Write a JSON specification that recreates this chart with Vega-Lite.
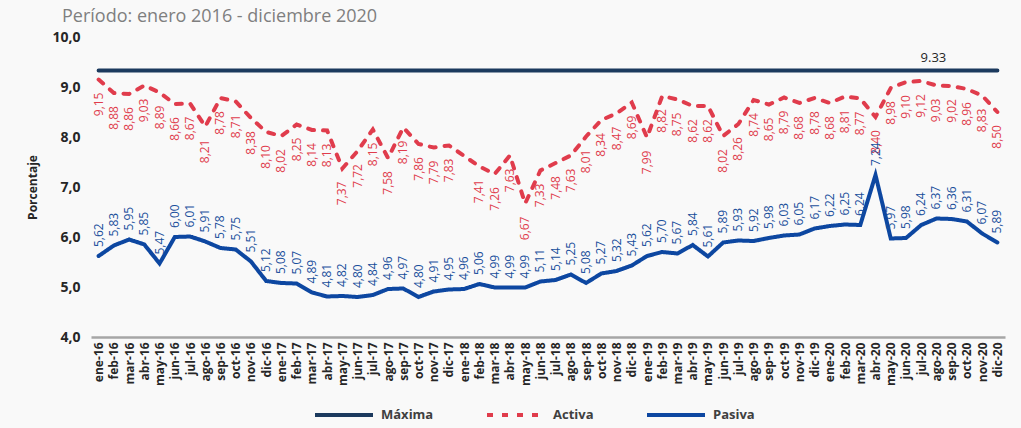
{
  "$schema": "https://vega.github.io/schema/vega-lite/v6.json",
  "width": 914,
  "height": 300,
  "autosize": {"type": "none"},
  "padding": {"left": 91, "top": 37, "right": 16, "bottom": 91},
  "background": "#f9f9f9",
  "title": {"text": "Período: enero 2016 - diciembre 2020", "font": "Open Sans", "fontSize": 18, "fontWeight": "normal", "color": "#7f7f7f", "anchor": "start", "frame": "group", "dx": -29, "offset": 4},
  "config": {
    "locale": {"number": {"decimal": ",", "thousands": ".", "grouping": [3], "currency": ["", " €"]}},
    "view": {"stroke": null},
    "legend": {"orient": "none", "legendX": 222, "legendY": 347, "direction": "horizontal", "symbolType": "stroke", "symbolSize": 3364, "symbolStrokeWidth": 4, "labelFont": "Open Sans", "labelFontSize": 13, "labelFontWeight": "bold", "labelColor": "#404040", "columnPadding": 45, "labelOffset": 6}
  },
  "data": {"values": [
    {"mes": "ene-16", "Máxima": 9.33, "Activa": 9.15, "Pasiva": 5.62},
    {"mes": "feb-16", "Máxima": 9.33, "Activa": 8.88, "Pasiva": 5.83},
    {"mes": "mar-16", "Máxima": 9.33, "Activa": 8.86, "Pasiva": 5.95},
    {"mes": "abr-16", "Máxima": 9.33, "Activa": 9.03, "Pasiva": 5.85},
    {"mes": "may-16", "Máxima": 9.33, "Activa": 8.89, "Pasiva": 5.47},
    {"mes": "jun-16", "Máxima": 9.33, "Activa": 8.66, "Pasiva": 6.00},
    {"mes": "jul-16", "Máxima": 9.33, "Activa": 8.67, "Pasiva": 6.01},
    {"mes": "ago-16", "Máxima": 9.33, "Activa": 8.21, "Pasiva": 5.91},
    {"mes": "sep-16", "Máxima": 9.33, "Activa": 8.78, "Pasiva": 5.78},
    {"mes": "oct-16", "Máxima": 9.33, "Activa": 8.71, "Pasiva": 5.75},
    {"mes": "nov-16", "Máxima": 9.33, "Activa": 8.38, "Pasiva": 5.51},
    {"mes": "dic-16", "Máxima": 9.33, "Activa": 8.10, "Pasiva": 5.12},
    {"mes": "ene-17", "Máxima": 9.33, "Activa": 8.02, "Pasiva": 5.08},
    {"mes": "feb-17", "Máxima": 9.33, "Activa": 8.25, "Pasiva": 5.07},
    {"mes": "mar-17", "Máxima": 9.33, "Activa": 8.14, "Pasiva": 4.89},
    {"mes": "abr-17", "Máxima": 9.33, "Activa": 8.13, "Pasiva": 4.81},
    {"mes": "may-17", "Máxima": 9.33, "Activa": 7.37, "Pasiva": 4.82},
    {"mes": "jun-17", "Máxima": 9.33, "Activa": 7.72, "Pasiva": 4.80},
    {"mes": "jul-17", "Máxima": 9.33, "Activa": 8.15, "Pasiva": 4.84},
    {"mes": "ago-17", "Máxima": 9.33, "Activa": 7.58, "Pasiva": 4.96},
    {"mes": "sep-17", "Máxima": 9.33, "Activa": 8.19, "Pasiva": 4.97},
    {"mes": "oct-17", "Máxima": 9.33, "Activa": 7.86, "Pasiva": 4.80},
    {"mes": "nov-17", "Máxima": 9.33, "Activa": 7.79, "Pasiva": 4.91},
    {"mes": "dic-17", "Máxima": 9.33, "Activa": 7.83, "Pasiva": 4.95},
    {"mes": "ene-18", "Máxima": 9.33, "Activa": 7.62, "Pasiva": 4.96},
    {"mes": "feb-18", "Máxima": 9.33, "Activa": 7.41, "Pasiva": 5.06},
    {"mes": "mar-18", "Máxima": 9.33, "Activa": 7.26, "Pasiva": 4.99},
    {"mes": "abr-18", "Máxima": 9.33, "Activa": 7.63, "Pasiva": 4.99},
    {"mes": "may-18", "Máxima": 9.33, "Activa": 6.67, "Pasiva": 4.99},
    {"mes": "jun-18", "Máxima": 9.33, "Activa": 7.33, "Pasiva": 5.11},
    {"mes": "jul-18", "Máxima": 9.33, "Activa": 7.48, "Pasiva": 5.14},
    {"mes": "ago-18", "Máxima": 9.33, "Activa": 7.63, "Pasiva": 5.25},
    {"mes": "sep-18", "Máxima": 9.33, "Activa": 8.01, "Pasiva": 5.08},
    {"mes": "oct-18", "Máxima": 9.33, "Activa": 8.34, "Pasiva": 5.27},
    {"mes": "nov-18", "Máxima": 9.33, "Activa": 8.47, "Pasiva": 5.32},
    {"mes": "dic-18", "Máxima": 9.33, "Activa": 8.69, "Pasiva": 5.43},
    {"mes": "ene-19", "Máxima": 9.33, "Activa": 7.99, "Pasiva": 5.62},
    {"mes": "feb-19", "Máxima": 9.33, "Activa": 8.82, "Pasiva": 5.70},
    {"mes": "mar-19", "Máxima": 9.33, "Activa": 8.75, "Pasiva": 5.67},
    {"mes": "abr-19", "Máxima": 9.33, "Activa": 8.62, "Pasiva": 5.84},
    {"mes": "may-19", "Máxima": 9.33, "Activa": 8.62, "Pasiva": 5.61},
    {"mes": "jun-19", "Máxima": 9.33, "Activa": 8.02, "Pasiva": 5.89},
    {"mes": "jul-19", "Máxima": 9.33, "Activa": 8.26, "Pasiva": 5.93},
    {"mes": "ago-19", "Máxima": 9.33, "Activa": 8.74, "Pasiva": 5.92},
    {"mes": "sep-19", "Máxima": 9.33, "Activa": 8.65, "Pasiva": 5.98},
    {"mes": "oct-19", "Máxima": 9.33, "Activa": 8.79, "Pasiva": 6.03},
    {"mes": "nov-19", "Máxima": 9.33, "Activa": 8.68, "Pasiva": 6.05},
    {"mes": "dic-19", "Máxima": 9.33, "Activa": 8.78, "Pasiva": 6.17},
    {"mes": "ene-20", "Máxima": 9.33, "Activa": 8.68, "Pasiva": 6.22},
    {"mes": "feb-20", "Máxima": 9.33, "Activa": 8.81, "Pasiva": 6.25},
    {"mes": "mar-20", "Máxima": 9.33, "Activa": 8.77, "Pasiva": 6.24},
    {"mes": "abr-20", "Máxima": 9.33, "Activa": 8.40, "Pasiva": 7.24},
    {"mes": "may-20", "Máxima": 9.33, "Activa": 8.98, "Pasiva": 5.97},
    {"mes": "jun-20", "Máxima": 9.33, "Activa": 9.10, "Pasiva": 5.98},
    {"mes": "jul-20", "Máxima": 9.33, "Activa": 9.12, "Pasiva": 6.24},
    {"mes": "ago-20", "Máxima": 9.33, "Activa": 9.03, "Pasiva": 6.37},
    {"mes": "sep-20", "Máxima": 9.33, "Activa": 9.02, "Pasiva": 6.36},
    {"mes": "oct-20", "Máxima": 9.33, "Activa": 8.96, "Pasiva": 6.31},
    {"mes": "nov-20", "Máxima": 9.33, "Activa": 8.83, "Pasiva": 6.07},
    {"mes": "dic-20", "Máxima": 9.33, "Activa": 8.50, "Pasiva": 5.89}
  ]},
  "transform": [{"fold": ["Máxima", "Activa", "Pasiva"], "as": ["serie", "valor"]}],
  "encoding": {
    "x": {"field": "mes", "type": "ordinal", "sort": null, "scale": {"type": "point", "padding": 0.5},
      "axis": {"title": null, "labelAngle": 270, "labelAlign": "right", "labelBaseline": "middle", "labelFont": "Open Sans", "labelFontSize": 12, "labelFontWeight": "bold", "labelColor": "#262626", "labelPadding": 5, "ticks": false, "domainColor": "#a6a6a6", "domainWidth": 2.5, "labelOverlap": false, "grid": false}},
    "y": {"field": "valor", "type": "quantitative", "scale": {"domain": [4, 10], "nice": false, "zero": false},
      "axis": {"title": "Porcentaje", "titleFont": "Open Sans", "titleFontSize": 12, "titleFontWeight": "bold", "titleColor": "#262626", "titlePadding": 12, "values": [4, 5, 6, 7, 8, 9, 10], "format": ".1f", "labelFont": "Open Sans", "labelFontSize": 14, "labelFontWeight": "bold", "labelColor": "#262626", "labelPadding": 11, "domain": false, "ticks": false, "grid": false}}
  },
  "layer": [
    {
      "mark": {"type": "line", "strokeWidth": 4, "strokeCap": "round"},
      "encoding": {
        "color": {"field": "serie", "type": "nominal", "title": null, "sort": ["Máxima", "Activa", "Pasiva"], "scale": {"domain": ["Máxima", "Activa", "Pasiva"], "range": ["#1c3a5e", "#e03c4c", "#0d47a1"]}},
        "strokeDash": {"field": "serie", "type": "nominal", "title": null, "sort": ["Máxima", "Activa", "Pasiva"], "scale": {"domain": ["Máxima", "Activa", "Pasiva"], "range": [[1, 0], [6, 9], [1, 0]]}}
      }
    },
    {
      "transform": [{"filter": "datum.serie === 'Activa' && datum.mes !== 'ene-18'"}],
      "mark": {"type": "text", "angle": 270, "align": "right", "baseline": "middle", "dx": -13, "font": "Open Sans", "fontSize": 12, "color": "#e03c4c"},
      "encoding": {"text": {"field": "valor", "type": "quantitative", "format": ".2f"}}
    },
    {
      "transform": [{"filter": "datum.serie === 'Pasiva'"}],
      "mark": {"type": "text", "angle": 270, "align": "left", "baseline": "middle", "dx": 9, "font": "Open Sans", "fontSize": 12, "color": "#1a4f9c"},
      "encoding": {"text": {"field": "valor", "type": "quantitative", "format": ".2f"}}
    },
    {
      "transform": [{"filter": "datum.serie === 'Máxima' && datum.mes === 'ago-20'"}],
      "mark": {"type": "text", "align": "center", "baseline": "bottom", "dy": -6, "dx": -3, "font": "Open Sans", "fontSize": 13, "color": "#262626"},
      "encoding": {"text": {"field": "valor", "type": "nominal"}}
    }
  ]
}
